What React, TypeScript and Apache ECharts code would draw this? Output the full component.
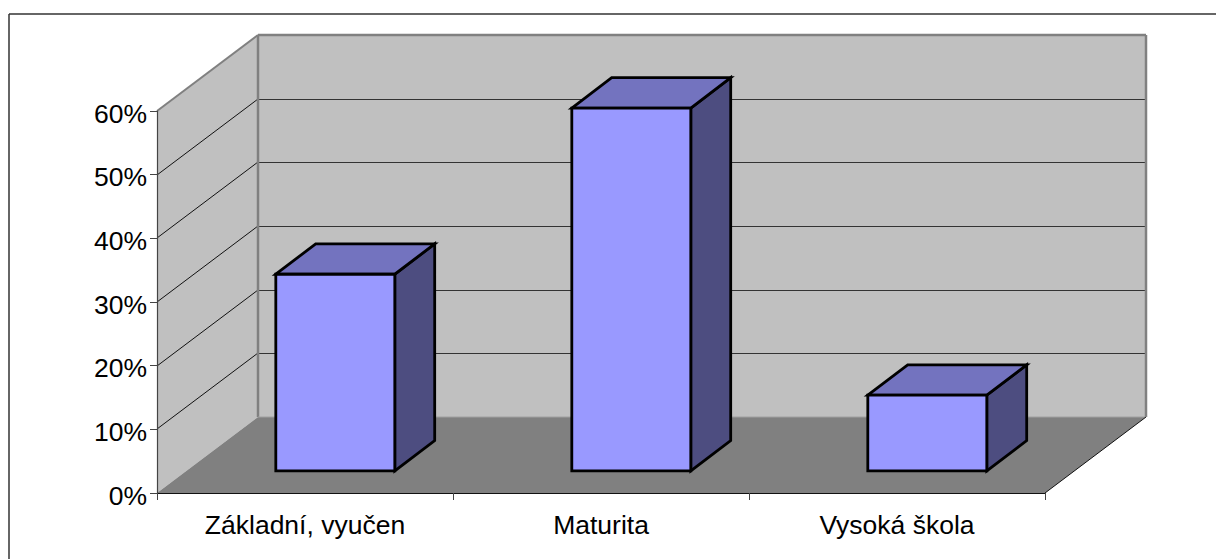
import React, { useEffect, useRef } from "react";
import * as echarts from "echarts";

const categories = ["Základní, vyučen", "Maturita", "Vysoká škola"];
const values = [30.9, 57, 11.9];
const yTicks = [0, 10, 20, 30, 40, 50, 60];

const FONT = '"Liberation Sans", Arial, sans-serif';
const DEPTH_X = 101;
const DEPTH_Y = 76;
const BAR_FRONT_X = 0.3;
const BAR_FRONT_Y = 0.29;
const BAR_BACK_X = 0.695;
const BAR_BACK_Y = 0.69;
const BAR_WIDTH_RATIO = 0.402;

const poly = (points: number[][], fill: string, stroke?: string, lineWidth = 0) => ({
  type: "polygon",
  shape: { points },
  style: { fill, stroke: stroke ?? "none", lineWidth, lineJoin: "miter" },
});
const seg = (a: number[], b: number[], stroke: string, lineWidth: number) => ({
  type: "line",
  shape: { x1: a[0], y1: a[1], x2: b[0], y2: b[1] },
  style: { stroke, lineWidth, fill: "none" },
});

function renderWalls(params: any, api: any) {
  const cs = params.coordSys;
  const x0 = cs.x;
  const x1 = cs.x + cs.width;
  const y0 = api.coord([0, 0])[1];
  const yTop = api.coord([0, 60])[1];
  const backL = x0 + DEPTH_X;
  const backR = x1 + DEPTH_X;
  const backTop = yTop - DEPTH_Y;
  const backBot = y0 - DEPTH_Y;
  const children: any[] = [
    poly([[x0, yTop], [backL, backTop], [backL, backBot], [x0, y0]], "#c0c0c0"),
    poly([[backL, backTop], [backR, backTop], [backR, backBot], [backL, backBot]], "#c0c0c0"),
    poly([[x0, y0], [backL, backBot], [backR, backBot], [x1, y0]], "#808080"),
  ];
  yTicks.slice(1, -1).forEach((t) => {
    const y = Math.round(api.coord([0, t])[1]);
    children.push(seg([x0, y], [backL, y - DEPTH_Y], "#111111", 1));
    children.push(seg([backL, y - DEPTH_Y + 0.5], [backR, y - DEPTH_Y + 0.5], "#333333", 1.2));
  });
  children.push(seg([x0, yTop], [backL, backTop], "#808080", 2));
  children.push(seg([backL, backTop], [backR, backTop], "#808080", 2.5));
  children.push(seg([backL, backTop], [backL, backBot], "#808080", 2.5));
  children.push(seg([backR, backTop], [backR, backBot], "#808080", 2.5));
  children.push(seg([backL, backBot], [backR, backBot], "#a0a0a0", 1));
  children.push(seg([x1, y0], [backR, backBot], "#111111", 1));
  return { type: "group", children };
}

function renderBar(_params: any, api: any) {
  const cat = api.value(0);
  const val = api.value(1);
  const base = api.coord([cat, 0]);
  const top = api.coord([cat, val]);
  const w = api.size([1, 0])[0] * BAR_WIDTH_RATIO;
  const fx = DEPTH_X * BAR_FRONT_X;
  const fy = DEPTH_Y * BAR_FRONT_Y;
  const bx = DEPTH_X * BAR_BACK_X;
  const by = DEPTH_Y * BAR_BACK_Y;
  const L = base[0] - w / 2 + fx;
  const R = base[0] + w / 2 + fx;
  const B = base[1] - fy;
  const T = top[1] - fy;
  const dx = bx - fx;
  const dy = by - fy;
  const sw = 2.8;
  return {
    type: "group",
    children: [
      poly([[R, T], [R + dx, T - dy], [R + dx, B - dy], [R, B]], "#4d4d80", "#000000", sw),
      poly([[L, T], [L + dx, T - dy], [R + dx, T - dy], [R, T]], "#7373bf", "#000000", sw),
      poly([[L, T], [R, T], [R, B], [L, B]], "#9999ff", "#000000", sw),
    ],
  };
}

export default function App() {
  const ref = useRef<HTMLDivElement>(null);
  useEffect(() => {
    const chart = echarts.init(ref.current!, undefined, { renderer: "svg" });
    chart.setOption({
      animation: false,
      backgroundColor: "#ffffff",
      grid: { left: 157, top: 111, width: 888, height: 382, containLabel: false },
      xAxis: {
        type: "category",
        data: categories,
        axisLine: { lineStyle: { color: "#111111", width: 1.2 } },
        axisTick: { show: true, interval: 0, alignWithLabel: false, length: 7, lineStyle: { color: "#444444", width: 1 } },
        axisLabel: { color: "#000000", fontFamily: FONT, fontSize: 26.5, margin: 18, interval: 0 },
      },
      yAxis: {
        type: "value",
        min: 0,
        max: 60,
        interval: 10,
        axisLine: { show: true, lineStyle: { color: "#444444", width: 1.2 } },
        axisTick: { show: true, length: 7, lineStyle: { color: "#444444", width: 1 } },
        splitLine: { show: false },
        axisLabel: { formatter: "{value}%", color: "#000000", fontFamily: FONT, fontSize: 26.5, margin: 10, verticalAlign: "top", lineHeight: 5 },
      },
      graphic: [
        { type: "line", shape: { x1: 9, y1: 14, x2: 1216, y2: 14 }, style: { stroke: "#333333", lineWidth: 1.5 } },
        { type: "line", shape: { x1: 9, y1: 14, x2: 9, y2: 559 }, style: { stroke: "#333333", lineWidth: 1.5 } },
      ],
      series: [
        {
          type: "custom",
          z: -1,
          silent: true,
          renderItem: renderWalls,
          data: [[0, 0]],
          encode: { x: 0, y: 1 },
        },
        {
          type: "custom",
          z: 3,
          renderItem: renderBar,
          data: values.map((v, i) => [i, v]),
          encode: { x: 0, y: 1 },
        },
      ],
    });
    return () => chart.dispose();
  }, []);
  return <div ref={ref} style={{ position: "absolute", left: 0, top: 0, width: 1216, height: 559 }} />;
}
